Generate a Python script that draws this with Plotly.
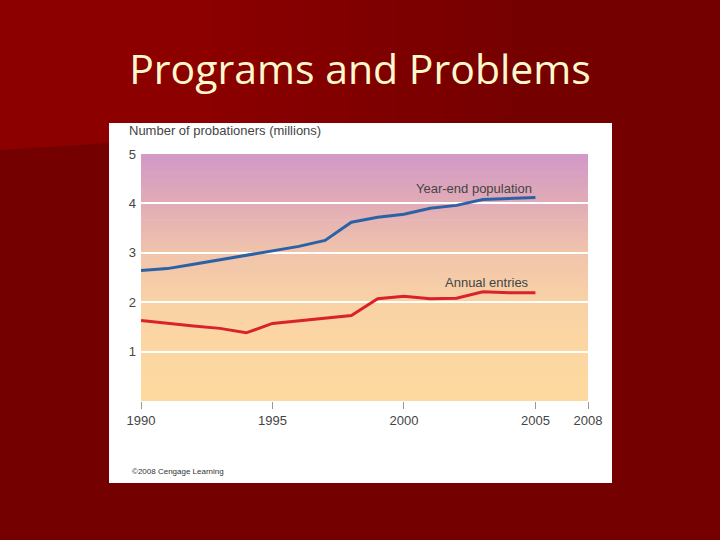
import plotly.graph_objects as go

years = [1990, 1991, 1992, 1993, 1994, 1995, 1996, 1997, 1998, 1999, 2000, 2001, 2002, 2003, 2004, 2005]
year_end_population = [2.64, 2.68, 2.77, 2.86, 2.96, 3.05, 3.13, 3.25, 3.62, 3.72, 3.78, 3.90, 3.96, 4.08, 4.10, 4.12]
annual_entries = [1.63, 1.57, 1.52, 1.47, 1.38, 1.57, 1.62, 1.68, 1.73, 2.07, 2.12, 2.07, 2.08, 2.21, 2.19, 2.19]
x_tick_vals = [1990, 1995, 2000, 2005, 2007]
x_tick_text = ["1990", "1995", "2000", "2005", "2008"]
y_tick_vals = [1, 2, 3, 4, 5]

W, H = 720, 540
L, R, T, B = 141, 588, 154, 401


def px(x):
    return (x - L) / (R - L)


def py(y):
    return (B - y) / (B - T)


fig = go.Figure()
fig.add_trace(go.Scatter(x=years, y=year_end_population, mode="lines",
                         line=dict(color="#2b62a6", width=3), hoverinfo="skip"))
fig.add_trace(go.Scatter(x=years, y=annual_entries, mode="lines",
                         line=dict(color="#d8232a", width=3), hoverinfo="skip"))

shapes = []
# slide background highlight (top-left brighter red fading to the right)
n = 24
for i in range(n):
    xa = i * 560 / n
    xb = (i + 1) * 560 / n + 1
    t = i / (n - 1)
    f = max(0.0, min(1.0, (t - 0.35) / 0.65))
    r = int(0x8c + (0x74 - 0x8c) * f)
    ya = 150 - 0.0636 * xa
    yb = 150 - 0.0636 * xb
    path = f"M {px(xa)},{py(0)} L {px(xb)},{py(0)} L {px(xb)},{py(yb)} L {px(xa)},{py(ya)} Z"
    shapes.append(dict(type="path", xref="paper", yref="paper", path=path,
                       fillcolor=f"rgb({r},0,0)", line=dict(width=0), layer="below"))
# white panel
shapes.append(dict(type="rect", xref="paper", yref="paper", x0=px(109), x1=px(612),
                   y0=py(483), y1=py(123), fillcolor="white", line=dict(width=0), layer="below"))
# plot-area vertical gradient
stops = [(0.0, (253, 217, 160)), (0.2, (252, 215, 162)), (0.4, (249, 210, 166)),
         (0.6, (240, 196, 172)), (0.8, (225, 172, 182)), (1.0, (210, 152, 200))]


def col(t):
    for (t0, c0), (t1, c1) in zip(stops[:-1], stops[1:]):
        if t0 <= t <= t1:
            u = (t - t0) / (t1 - t0)
            return tuple(int(round(a + (b - a) * u)) for a, b in zip(c0, c1))
    return stops[-1][1]


m = 60
for i in range(m):
    y0 = i / m
    y1 = (i + 1) / m + 0.003
    c = col((i + 0.5) / m)
    shapes.append(dict(type="rect", xref="paper", yref="paper", x0=0, x1=1, y0=y0, y1=min(y1, 1),
                       fillcolor=f"rgb{c}", line=dict(width=0), layer="below"))

FONT = "Liberation Sans, Arial"
annotations = [
    dict(text="Number of probationers (millions)", xref="paper", yref="paper",
         x=px(127), y=py(131), xanchor="left", yanchor="middle", showarrow=False,
         font=dict(family=FONT, size=13, color="#444")),
    dict(text="Year-end population", xref="paper", yref="paper",
         x=px(474), y=py(188), xanchor="center", yanchor="middle", showarrow=False,
         font=dict(family=FONT, size=13, color="#444")),
    dict(text="Annual entries", xref="paper", yref="paper",
         x=px(487), y=py(282), xanchor="center", yanchor="middle", showarrow=False,
         font=dict(family=FONT, size=13, color="#444")),
    dict(text="©2008 Cengage Learning", xref="paper", yref="paper",
         x=px(130), y=py(471), xanchor="left", yanchor="middle", showarrow=False,
         font=dict(family=FONT, size=8, color="#333")),
]

fig.update_layout(
    width=W, height=H,
    margin=dict(l=L, r=W - R, t=T, b=H - B),
    paper_bgcolor="#740000", plot_bgcolor="rgba(0,0,0,0)",
    showlegend=False,
    title=dict(text="Programs and Problems", x=0.5, xref="container", xanchor="center",
               y=1 - 70 / H, yref="container", yanchor="middle",
               font=dict(family="Open Sans", size=41, color="#fff8cc")),
    shapes=shapes, annotations=annotations,
    xaxis=dict(range=[1990, 2007], tickvals=x_tick_vals, ticktext=x_tick_text,
               showgrid=False, zeroline=False, showline=False,
               ticks="outside", ticklen=7, tickcolor="#999", tickwidth=1,
               tickfont=dict(family=FONT, size=13, color="#444")),
    yaxis=dict(range=[0, 5], tickvals=y_tick_vals, showgrid=True, gridcolor="white", gridwidth=1.5,
               zeroline=False, showline=False, ticks="", ticklabelstandoff=4,
               tickfont=dict(family=FONT, size=13, color="#444")),
)

fig.write_html("out.html", config={"displayModeBar": False},
               post_script="document.body.style.margin='0';document.body.style.overflow='hidden';")
